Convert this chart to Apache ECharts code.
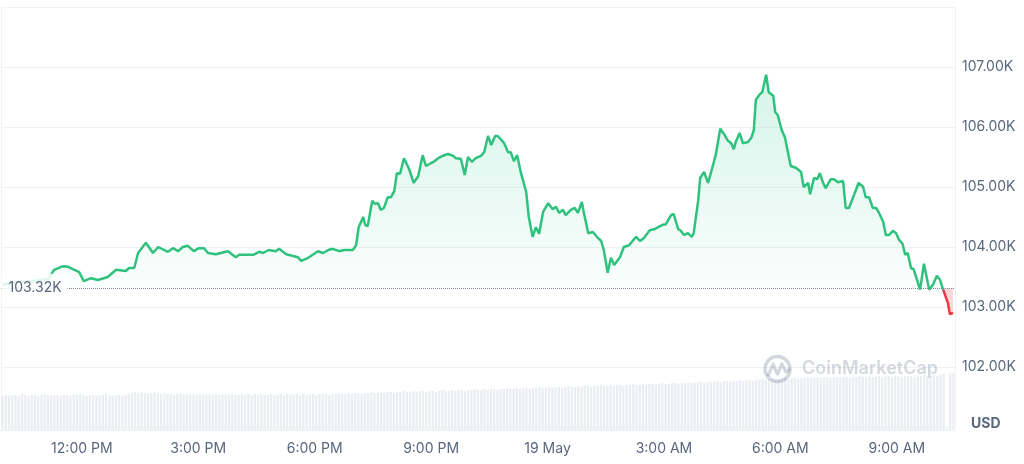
<!DOCTYPE html>
<html><head><meta charset="utf-8">
<script src="https://cdn.jsdelivr.net/npm/echarts@6/dist/echarts.min.js"></script>
<style>html,body{margin:0;padding:0;background:#fff}#c{width:1024px;height:464px}</style>
</head><body><div id="c"></div>
<script>
// ---- data ----
const times = ['09:57','10:10','10:26','10:41','10:57','11:09','11:12','11:17','11:31','11:39','11:46','11:56','12:03','12:14','12:25','12:40','12:53','13:08','13:13','13:21','13:27','13:39','13:50','13:58','14:13','14:21','14:29','14:36','14:44','14:53','15:01','15:09','15:15','15:27','15:46','15:58','16:03','16:25','16:34','16:40','16:49','17:00','17:05','17:16','17:34','17:39','17:50','18:05','18:13','18:21','18:28','18:38','18:45','18:59','19:04','19:08','19:15','19:18','19:22','19:29','19:33','19:38','19:42','19:47','19:53','19:58','20:03','20:07','20:12','20:18','20:26','20:33','20:40','20:43','20:47','20:52','21:00','21:04','21:11','21:18','21:26','21:34','21:38','21:46','21:52','21:57','22:03','22:09','22:17','22:22','22:28','22:33','22:39','22:43','22:53','22:59','23:03','23:08','23:13','23:19','23:27','23:31','23:37','23:42','23:47','23:53','00:01','00:08','00:13','00:18','00:24','00:28','00:36','00:42','00:47','00:53','00:56','01:03','01:10','01:18','01:23','01:27','01:33','01:38','01:43','01:52','01:58','02:06','02:17','02:23','02:29','02:38','02:46','02:51','02:58','03:03','03:11','03:15','03:22','03:26','03:31','03:37','03:43','03:46','03:53','03:56','04:02','04:08','04:13','04:20','04:27','04:33','04:39','04:44','04:48','04:51','04:57','05:02','05:10','05:15','05:19','05:22','05:27','05:32','05:38','05:42','05:49','05:52','05:56','06:02','06:07','06:16','06:24','06:32','06:36','06:43','06:46','06:52','06:57','07:01','07:06','07:10','07:18','07:23','07:29','07:37','07:41','07:46','07:54','08:01','08:08','08:12','08:17','08:23','08:28','08:32','08:39','08:43','08:48','08:54','08:59','09:03','09:09','09:13','09:17','09:22','09:26','09:36','09:42','09:50','09:56','10:02','10:07','10:11','10:19','10:22','10:27'];
const prices = [103.37,103.40,103.42,103.43,103.45,103.47,103.53,103.62,103.68,103.67,103.63,103.58,103.43,103.48,103.45,103.50,103.62,103.60,103.65,103.65,103.90,104.07,103.90,104.00,103.92,103.98,103.93,104.00,104.02,103.93,103.98,103.98,103.90,103.88,103.93,103.83,103.87,103.87,103.92,103.90,103.95,103.93,103.97,103.88,103.83,103.77,103.82,103.93,103.90,103.95,103.97,103.93,103.95,103.95,104.03,104.33,104.50,104.37,104.35,104.77,104.72,104.73,104.62,104.65,104.83,104.83,104.93,105.23,105.22,105.48,105.30,105.07,105.18,105.20,105.53,105.35,105.40,105.42,105.48,105.52,105.55,105.52,105.48,105.47,105.20,105.50,105.42,105.48,105.52,105.58,105.85,105.70,105.85,105.85,105.73,105.58,105.58,105.43,105.53,105.23,104.92,104.50,104.17,104.33,104.22,104.58,104.73,104.63,104.67,104.57,104.62,104.53,104.62,104.65,104.57,104.75,104.58,104.23,104.25,104.15,104.10,103.95,103.57,103.82,103.70,103.83,104.00,104.03,104.17,104.10,104.15,104.28,104.30,104.33,104.37,104.38,104.53,104.55,104.30,104.27,104.20,104.23,104.17,104.23,104.78,105.15,105.25,105.07,105.25,105.53,105.97,105.88,105.77,105.73,105.63,105.75,105.90,105.73,105.75,105.82,105.95,106.45,106.53,106.58,106.87,106.58,106.52,106.25,106.20,105.95,105.83,105.35,105.32,105.25,105.00,105.07,104.88,105.15,105.13,105.23,105.07,104.98,105.13,105.13,105.08,105.10,104.65,104.65,104.87,105.07,105.00,104.83,104.83,104.65,104.65,104.58,104.42,104.20,104.20,104.27,104.23,104.13,104.05,103.87,103.90,103.65,103.63,103.29,103.72,103.29,103.37,103.52,103.45,103.31,103.07,102.88,102.90];
const baseline = 103.32;
const volumeStart = '09:55';
const volumeStepMin = 5;
const volumes = [
34,35,34,35,35,34,36,35,34,35,35,34,35,36,35,34,35,35,34,35,
35,34,35,35,36,35,34,35,35,34,35,35,36,35,34,35,35,34,35,36,
37,38,37,38,37,36,37,38,37,36,37,36,36,35,36,36,35,36,35,36,
35,36,35,36,36,35,36,35,35,36,35,36,35,35,36,35,36,35,36,35,
36,35,35,36,35,36,36,35,36,35,36,36,35,36,35,36,36,35,36,36,
36,35,36,36,37,36,36,37,36,37,37,36,37,37,38,37,37,38,37,38,
38,37,38,38,39,38,38,39,38,39,39,38,39,39,38,39,40,39,39,40,
39,40,40,39,40,40,41,40,40,41,40,41,41,40,41,41,42,41,41,42,
41,42,42,41,42,42,43,42,42,43,42,43,43,42,43,44,43,43,44,43,
44,44,43,44,44,45,44,44,45,44,45,45,44,45,45,46,45,45,46,45,
46,46,45,46,47,46,46,47,47,46,47,47,48,47,47,48,48,47,48,48,
48,49,48,49,49,48,49,49,50,49,50,50,49,50,50,51,50,51,51,50,
51,51,52,51,52,52,51,52,52,53,52,52,53,52,53,53,52,53,53,52,
53,53,52,53,53,54,53,53,54,53,53,54,53,54,54,53,54,54,53,54,
54,54,53,54,54,55,54,54,55,54,55,56,1,57,57];
const xStartDay1 = '09:55', xEndDay2 = '10:30';
const xAxisFromDay1 = '09:00';      // tick origin (multiple of the 3h interval)
const xTickStepMin = 180;
const xTickTimes = ['12:00','15:00','18:00','21:00','00:00','03:00','06:00','09:00'];
const xTickLabels = ['12:00 PM','3:00 PM','6:00 PM','9:00 PM','19 May','3:00 AM','6:00 AM','9:00 AM'];
const yMin = 101, yMax = 108, yStep = 1;

// ---- helpers ----
function toMinutes(list) {
  let day = 0, prev = -1;
  return list.map(s => {
    const [h, m] = s.split(':').map(Number);
    let v = h * 60 + m + day * 1440;
    if (v < prev) { day++; v += 1440; }
    prev = v; return v;
  });
}
const hm = s => { const [h, m] = s.split(':').map(Number); return h * 60 + m; };
const tMin = toMinutes(times);
const xMin = hm(xStartDay1);
const xMax = hm(xEndDay2) + 1440;
const xFrom = hm(xAxisFromDay1);
const tickVals = toMinutes(xTickTimes);
const volStart = hm(volumeStart);
const lineData = tMin.map((t, i) => [t, prices[i]]);
const volData = volumes.map((v, i) => [volStart + i * volumeStepMin + volumeStepMin / 2, v]);

const maxP = Math.max(...prices), minP = Math.min(...prices);
const stop = (maxP - baseline) / (maxP - Math.min(minP, baseline));
const GREEN = '#2fc17e', RED = '#ea3943';
const FONT = 'Inter';
const LABEL = '#58667e';

// layout: plot spans x=1..955; label axis is extended left so ticks start at 09:00
const PLOT_LEFT = 1, PLOT_W = 954;
const pxPerMin = PLOT_W / (xMax - xMin);
const extLeft = PLOT_LEFT - (xMin - xFrom) * pxPerMin;
const extW = PLOT_W + (xMin - xFrom) * pxPerMin;

const chart = echarts.init(document.getElementById('c'), null, { renderer: 'canvas' });
chart.setOption({
  animation: false,
  backgroundColor: '#fff',
  grid: [
    { left: PLOT_LEFT, top: 7, width: PLOT_W, height: 420, outerBoundsMode: 'none', containLabel: false },
    { left: extLeft, top: 330, width: extW, height: 100, outerBoundsMode: 'none', containLabel: false }
  ],
  xAxis: [
    { type: 'value', gridIndex: 0, min: xMin, max: xMax, show: false },
    { type: 'value', gridIndex: 1, min: xFrom, max: xMax, interval: xTickStepMin,
      axisLine: { show: true, lineStyle: { color: '#eff2f5' } },
      axisTick: { show: false }, splitLine: { show: false },
      axisLabel: { margin: 12, color: LABEL, fontSize: 14, fontFamily: FONT,
        showMinLabel: false, showMaxLabel: false,
        formatter: v => { const k = tickVals.indexOf(v); return k >= 0 ? xTickLabels[k] : ''; } } }
  ],
  yAxis: [
    { type: 'value', gridIndex: 0, position: 'right', min: yMin, max: yMax, interval: yStep,
      axisLine: { show: true, lineStyle: { color: '#eff2f5' } }, axisTick: { show: false },
      splitLine: { lineStyle: { color: '#eff2f5' } },
      axisLabel: { margin: 7, color: LABEL, fontSize: 14, fontFamily: FONT,
        formatter: v => v === yMax ? '' : (v === yMin ? '{usd|USD}' : v.toFixed(2) + 'K'),
        rich: { usd: { fontWeight: 'bold', fontSize: 14, color: LABEL, fontFamily: FONT, padding: [0, 0, 6, 9] } } } },
    { type: 'value', gridIndex: 1, min: 0, max: 100, show: false },
    { type: 'value', gridIndex: 0, position: 'left', min: yMin, max: yMax, show: true,
      axisLine: { show: true, lineStyle: { color: '#eff2f5' } }, axisTick: { show: false },
      axisLabel: { show: false }, splitLine: { show: false } }
  ],
  series: [
    { type: 'line', xAxisIndex: 0, yAxisIndex: 0, data: lineData, showSymbol: false, symbol: 'none', z: 3,
      lineStyle: { width: 2.5,
        color: new echarts.graphic.LinearGradient(0, 0, 0, 1, [
          { offset: 0, color: GREEN }, { offset: stop, color: GREEN },
          { offset: stop, color: RED }, { offset: 1, color: RED }
        ]) },
      areaStyle: { origin: baseline,
        color: new echarts.graphic.LinearGradient(0, 0, 0, 1, [
          { offset: 0, color: 'rgba(22,199,132,0.26)' },
          { offset: stop, color: 'rgba(22,199,132,0.03)' },
          { offset: stop, color: 'rgba(234,57,67,0.28)' },
          { offset: 1, color: 'rgba(234,57,67,0.28)' }
        ]) },
      markLine: { silent: true, symbol: 'none',
        lineStyle: { type: 'dotted', color: '#7d8799', width: 1 },
        label: { show: false }, data: [{ yAxis: baseline }] },
      markPoint: { silent: true, symbol: 'rect', symbolSize: 1,
        itemStyle: { color: 'rgba(255,255,255,0)' },
        label: { show: true, position: 'right', distance: 0, formatter: baseline.toFixed(2) + 'K',
          color: LABEL, fontSize: 14, fontFamily: FONT,
          backgroundColor: 'rgba(255,255,255,0.85)', padding: [8, 6, 6, 7] },
        data: [{ coord: [xMin, baseline] }] }
    },
    { type: 'bar', xAxisIndex: 1, yAxisIndex: 1, data: volData, barWidth: 2.2, silent: true,
      itemStyle: { color: '#eaedf2' }, z: 1 }
  ],
  graphic: [
    { type: 'circle', shape: { cx: 777.5, cy: 369, r: 12.5 }, silent: true, z: 10,
      style: { fill: 'none', stroke: 'rgba(88,102,126,0.26)', lineWidth: 3.5 } },
    { type: 'polyline', shape: { points: [[768, 376], [773, 364], [777.5, 374], [782, 364], [786, 372], [790, 369]] }, silent: true, z: 10,
      style: { fill: 'none', stroke: 'rgba(88,102,126,0.26)', lineWidth: 3.2, lineJoin: 'round' } },
    { type: 'text', left: 802, top: 360, silent: true, z: 10,
      style: { text: 'CoinMarketCap', font: '600 18px Inter', fill: 'rgba(88,102,126,0.26)' } }
  ]
});
</script></body></html>
